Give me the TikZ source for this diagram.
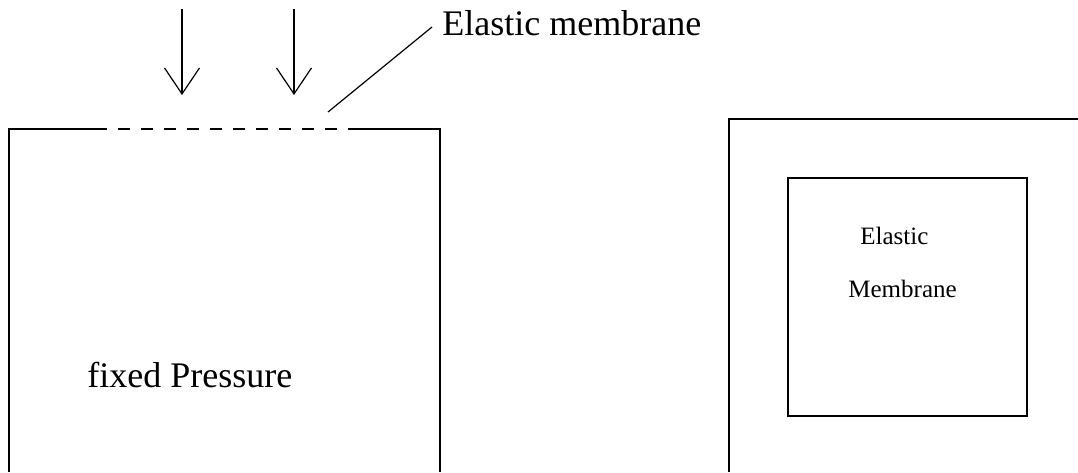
\documentclass[tikz,border=0pt]{standalone}
\usepackage{fontspec}
\setmainfont{Liberation Serif}
\usetikzlibrary{arrows.meta}
\tikzset{
	wall/.style = {line width=0.6pt, black},% paroi de la cuve
	memb/.style = {wall, dash pattern=on 6pt off 5.5pt},% membrane en pointilles
	force/.style = {wall, -{Straight Barb[length=13pt,width=17.5pt,line width=0.6pt]}},
	biglabel/.style = {inner sep=0pt, anchor=base west,
		font=\fontsize{18}{22}\selectfont},
	smalllabel/.style = {inner sep=0pt, anchor=base west,
		font=\fontsize{12.5}{15}\selectfont}
}
\begin{document}
\begin{tikzpicture}[x=0.5pt,y=-0.5pt]
	\useasboundingbox (0,0) rectangle (1078,472);
	% cuve de gauche
	\draw[wall] (9,472) -- (9,129) -- (107,129);
	\draw[memb] (118,129) -- (338,129);
	\draw[wall] (348,129) -- (440,129) -- (440,472);
	% forces sur la membrane
	\coordinate (f1s) at (182,9);
	\coordinate (f1e) at (182,95);
	\coordinate (f2s) at (294,9);
	\coordinate (f2e) at (294,95);
	\draw[force] (f1s) -- (f1e);
	\draw[force] (f2s) -- (f2e);
	% legende
	\node[biglabel] (lbl) at (442,35) {Elastic membrane};
	\coordinate (mtip) at (328,112);
	\draw[wall] (lbl.west |- 0,27) ++(-10,0) coordinate (lend) -- (mtip);
	\node[biglabel] (press) at (87,387) {fixed Pressure};
	% vue de dessus
	\draw[wall] (729,472) -- (729,119) -- (1078,119);
	\draw[wall] (788,178) rectangle (1027,416);
	\node[smalllabel] (el) at (860,244) {Elastic};
	\node[smalllabel] (mb) at (848,297) {Membrane};
\end{tikzpicture}
\end{document}
